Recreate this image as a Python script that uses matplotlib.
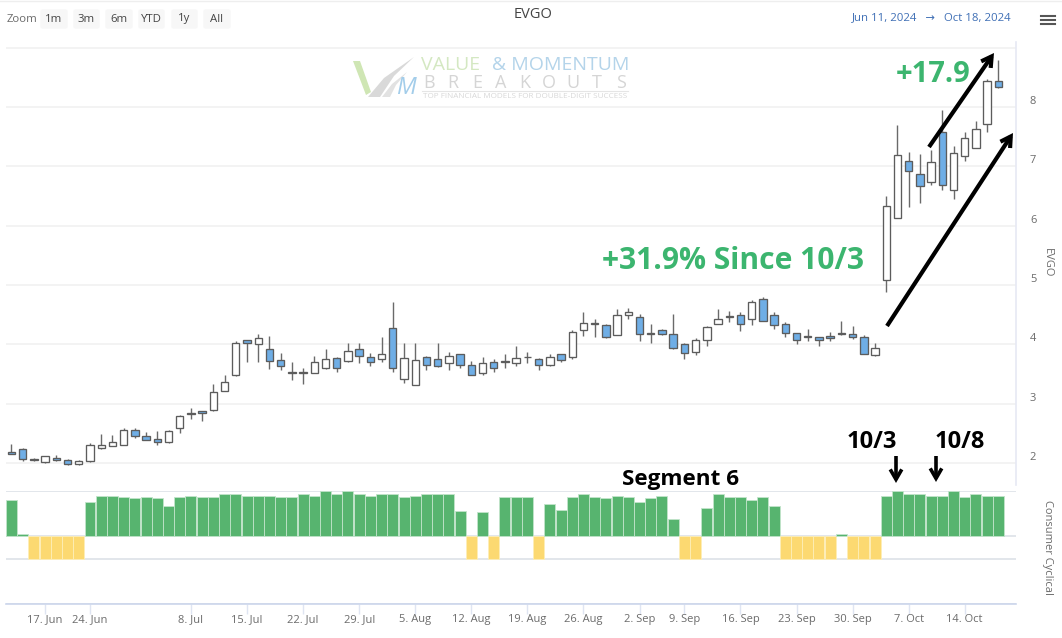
import matplotlib
matplotlib.use("Agg")
import matplotlib.pyplot as plt
from matplotlib.lines import Line2D
from matplotlib.patches import FancyBboxPatch, Polygon, FancyArrowPatch, ArrowStyle

# ---------- data ----------
highs = [2.32,2.26,2.09,2.12,2.13,2.07,2.05,2.33,2.49,2.47,2.59,2.59,2.53,2.54,2.55,2.81,2.93,2.88,3.33,3.48,4.06,4.08,4.17,4.14,3.86,3.70,
         3.60,3.80,3.92,3.78,4.03,4.02,3.86,4.12,4.71,4.03,4.02,3.80,4.03,3.88,3.84,3.72,3.78,3.75,3.83,3.97,3.87,3.77,3.83,3.84,4.25,4.54,4.43,
         4.34,4.59,4.61,4.51,4.35,4.26,4.51,4.02,4.10,4.31,4.59,4.57,4.54,4.75,4.80,4.54,4.37,4.20,4.26,4.12,4.21,4.39,4.31,4.16,4.02,
         6.50,7.70,7.24,7.21,7.28,7.95,7.34,7.59,7.77,8.48,8.79]
lows = [2.15,2.04,2.03,2.00,2.03,1.97,1.97,2.02,2.24,2.28,2.30,2.42,2.38,2.30,2.34,2.50,2.74,2.70,2.88,3.21,3.47,3.70,3.70,3.58,3.57,3.40,
        3.33,3.51,3.58,3.53,3.71,3.69,3.64,3.71,3.53,3.35,3.31,3.57,3.62,3.57,3.60,3.48,3.48,3.53,3.61,3.64,3.68,3.57,3.64,3.70,3.75,4.15,4.13,
        4.10,4.16,4.42,4.06,4.03,4.16,3.92,3.75,3.82,3.97,4.34,4.37,4.22,4.33,4.39,4.26,4.12,4.01,4.06,3.98,4.06,4.16,4.09,3.83,3.81,
        4.88,6.13,6.32,6.39,6.69,6.61,6.46,7.09,7.31,7.58,8.33]
body_tops = [2.18,2.24,2.07,2.11,2.08,2.045,2.03,2.31,2.31,2.35,2.55,2.56,2.45,2.41,2.54,2.79,2.83,2.87,3.20,3.37,4.02,4.07,4.10,3.92,3.74,3.53,
             3.53,3.71,3.75,3.77,3.89,3.93,3.78,3.84,4.27,3.77,3.74,3.79,3.75,3.80,3.83,3.66,3.68,3.71,3.72,3.77,3.79,3.75,3.79,3.83,4.21,4.36,4.36,
             4.32,4.49,4.54,4.47,4.19,4.24,4.17,4.01,4.08,4.30,4.42,4.48,4.49,4.71,4.76,4.49,4.34,4.19,4.14,4.12,4.14,4.20,4.17,4.13,3.94,
             6.33,7.20,7.10,6.87,7.07,7.58,7.23,7.48,7.63,8.45,8.45]
body_bots = [2.15,2.06,2.045,2.01,2.045,1.98,1.98,2.03,2.25,2.29,2.31,2.46,2.39,2.35,2.35,2.59,2.82,2.85,2.89,3.21,3.48,4.02,4.00,3.72,3.63,3.52,
             3.52,3.52,3.60,3.61,3.72,3.80,3.70,3.76,3.61,3.41,3.31,3.65,3.63,3.69,3.65,3.49,3.52,3.61,3.71,3.69,3.78,3.66,3.65,3.74,3.78,4.25,4.35,
             4.13,4.16,4.49,4.17,4.18,4.17,3.94,3.85,3.88,4.07,4.34,4.47,4.35,4.42,4.40,4.33,4.20,4.08,4.13,4.07,4.10,4.17,4.12,3.84,3.82,
             5.08,6.13,6.93,6.67,6.74,6.69,6.61,7.18,7.32,7.72,8.34]
down_days = [0,1,2,4,5,11,12,13,17,21,23,24,29,31,32,34,37,38,40,41,43,47,49,
             53,56,58,59,60,65,67,68,69,70,72,73,74,75,76,80,81,83,88]
segment_values = [80,4,-50,-50,-50,-50,-50,76,90,90,87,84,87,84,67,87,90,87,87,94,94,90,90,90,87,87,94,90,99,94,99,94,90,94,94,87,90,94,94,94,
                  55,-50,53,-50,87,87,87,-50,72,58,87,94,87,84,90,87,76,84,90,37,-50,-50,63,94,87,87,80,87,67,-50,-50,-50,-50,-50,5,-50,-50,-50,
                  90,99,94,94,90,90,99,87,94,90,90]
date_ticks = [3,7,16,21,26,31,36,41,46,51,56,60,65,70,75,80,85]
date_labels = ["17. Jun","24. Jun","8. Jul","15. Jul","22. Jul","29. Jul","5. Aug","12. Aug","19. Aug",
               "26. Aug","2. Sep","9. Sep","16. Sep","23. Sep","30. Sep","7. Oct","14. Oct"]
price_ticks = [2,3,4,5,6,7,8,9]
price_labels = ["2","3","4","5","6","7","8",""]
segment_ticks = [100,0,-50,-150]

# ---------- figure ----------
W, H = 1062, 638
plt.rcParams["font.family"] = ["Open Sans", "DejaVu Sans"]
fig = plt.figure(figsize=(W/100, H/100), dpi=100, facecolor="white")

def rect(l, t, r, b):
    return [l/W, 1-b/H, (r-l)/W, (b-t)/H]
def fx(x): return x/W
def fy(y): return 1-y/H

XLIM = (-0.49, 89.57)
GRAY = "#6b6b6b"

# ---------- price pane ----------
ax = fig.add_axes(rect(6, 42, 1016, 485))
ax.set_xlim(*XLIM)
ax.set_ylim(2-22/59.3, 2+421/59.3)
idx = list(range(len(highs)))
ax.vlines(idx, lows, highs, color="#6a6a6a", lw=1.0, zorder=2)
colors = ["#6FAEE6" if i in down_days else "white" for i in idx]
heights = [max(t-b, 0.015) for t, b in zip(body_tops, body_bots)]
ax.bar(idx, heights, bottom=body_bots, width=0.66, color=colors, edgecolor="#5c5c5c", lw=0.95, zorder=3)
ax.set_yticks(price_ticks, price_labels)
ax.yaxis.tick_right()
ax.tick_params(axis="y", length=0, pad=10, labelsize=8, labelcolor=GRAY)
plt.setp(ax.get_yticklabels(), va="bottom")
ax.set_xticks([])
ax.grid(axis="y", color="#f1f1f1", lw=1.2, zorder=0)
for s in ["top", "left", "bottom"]:
    ax.spines[s].set_visible(False)
ax.spines["right"].set_color("#e6e9f4")
ax.spines["right"].set_linewidth(1.2)
ax.set_axisbelow(True)

# ---------- segment pane ----------
ax2 = fig.add_axes(rect(6, 491, 1016, 604))
ax2.set_xlim(*XLIM)
ax2.set_ylim(-150, 100)
bar_colors = ["#57B46F" if v > 0 else "#FCD971" for v in segment_values]
bar_edges = ["#c2e4cb" if v > 0 else "#fdeeb8" for v in segment_values]
ax2.bar(idx, segment_values, width=0.98, color=bar_colors, edgecolor=bar_edges, lw=0.6, zorder=3)
ax2.set_yticks(segment_ticks, [""]*4)
ax2.tick_params(axis="y", length=0)
ax2.grid(axis="y", color="#dde1e8", lw=1.2, zorder=1)
ax2.set_axisbelow(True)
for s in ["top", "left", "right"]:
    ax2.spines[s].set_visible(False)
ax2.spines["bottom"].set_color("#ccd6eb")
ax2.spines["bottom"].set_linewidth(1.2)
ax2.set_xticks(date_ticks, date_labels)
ax2.tick_params(axis="x", length=7, width=1, color="#dfe5f2", pad=0, labelsize=8, labelcolor=GRAY)

fig.text(fx(1047), fy(263), "EVGO", rotation=270, ha="center", va="center", fontsize=8, color=GRAY)
fig.text(fx(1047), fy(547), "Consumer Cyclical", rotation=270, ha="center", va="center", fontsize=8, color=GRAY)

# ---------- header ----------
fig.add_artist(Line2D([0, 1], [fy(0.5)]*2, color="#eeeeee", lw=1))
fig.text(fx(7), fy(19), "Zoom", ha="left", va="center", fontsize=8.2, color=GRAY)
for (l, r), lab in zip([(40,68),(73,100),(105,133),(138,165),(171,198),(203,231)],
                       ["1m","3m","6m","YTD","1y","All"]):
    fig.add_artist(FancyBboxPatch((fx(l+1), fy(28)), (r-l-2)/W, 18/H, boxstyle="round,pad=0,rounding_size=0.002",
                                  transform=fig.transFigure, fc="#f7f7f7", ec="#f7f7f7", lw=1))
    fig.text(fx((l+r)/2), fy(19), lab, ha="center", va="center", fontsize=8.2, color="#444444")
fig.text(fx(533), fy(15), "EVGO", ha="center", va="center", fontsize=10.5, color="#444444")
fig.text(fx(1012), fy(18), "Jun 11, 2024   \u2192   Oct 18, 2024", ha="right", va="center", fontsize=8.2, color="#3f6fb5")
for y in (16, 20, 24):
    fig.add_artist(Line2D([fx(1041), fx(1055)], [fy(y)]*2, color="#555555", lw=1.5))

# ---------- watermark ----------
fig.add_artist(Polygon([(fx(353),fy(61)),(fx(360),fy(61)),(fx(371),fy(92)),(fx(366),fy(95))],
                       transform=fig.transFigure, fc="#cfe6b4", ec="none", zorder=5))
fig.add_artist(Polygon([(fx(368),fy(97)),(fx(384),fy(78)),(fx(414),fy(57)),(fx(394),fy(76)),(fx(380),fy(97))],
                       transform=fig.transFigure, fc="#d9d9d9", ec="none", zorder=5))
fig.add_artist(Polygon([(fx(382),fy(97)),(fx(392),fy(84)),(fx(407),fy(72)),(fx(396),fy(85)),(fx(390),fy(97))],
                       transform=fig.transFigure, fc="#e2e2e2", ec="none", zorder=5))
fig.text(fx(406), fy(88), "M", ha="center", va="center", fontsize=17, style="italic", color="#a3cdea", zorder=6)
fig.text(fx(421), fy(65), "VALUE", ha="left", va="center", fontsize=14, color="#d4e8c2", zorder=6)
fig.text(fx(492), fy(65), "& MOMENTUM", ha="left", va="center", fontsize=14, color="#b4d4ea", zorder=6)
for i, ch in enumerate("BREAKOUTS"):
    fig.text(fx(429 + i*24), fy(83), ch, ha="center", va="center", fontsize=13, color="#d5d5d5", zorder=6)
fig.add_artist(Line2D([fx(422), fx(628)], [fy(91)]*2, color="#e5e5e5", lw=0.8))
fig.text(fx(525), fy(96), "TOP FINANCIAL MODELS FOR DOUBLE-DIGIT SUCCESS", ha="center", va="center",
         fontsize=5.85, color="#d8d8d8", zorder=6)

# ---------- callouts ----------
GREEN = "#3CB56F"
fig.text(fx(896), fy(75), "+17.9", ha="left", va="center", fontsize=21, fontweight="bold", color=GREEN, zorder=8)
fig.text(fx(602), fy(261), "+31.9% Since 10/3", ha="left", va="center", fontsize=21.6, fontweight="bold", color=GREEN, zorder=8)
fig.text(fx(622), fy(479), "Segment 6", ha="left", va="center", fontsize=16.2, fontweight="bold", color="black", zorder=8)
fig.text(fx(847), fy(442), "10/3", ha="left", va="center", fontsize=17, fontweight="bold", color="black", zorder=8)
fig.text(fx(935), fy(442), "10/8", ha="left", va="center", fontsize=17, fontweight="bold", color="black", zorder=8)

def arrow(x0, y0, x1, y1, lw=3):
    fig.add_artist(FancyArrowPatch(
        (fx(x0), fy(y0)), (fx(x1), fy(y1)), transform=fig.transFigure,
        arrowstyle=ArrowStyle("->", head_length=4.5, head_width=2.6),
        color="black", lw=lw, shrinkA=0, shrinkB=0, mutation_scale=1.6, joinstyle="miter", capstyle="butt", zorder=9))

arrow(887, 326, 1013, 133)
arrow(929, 147, 994, 53)
arrow(896, 456, 896, 483, lw=2.6)
arrow(936, 456, 936, 482, lw=2.6)

fig.savefig("out.png", dpi=100)
